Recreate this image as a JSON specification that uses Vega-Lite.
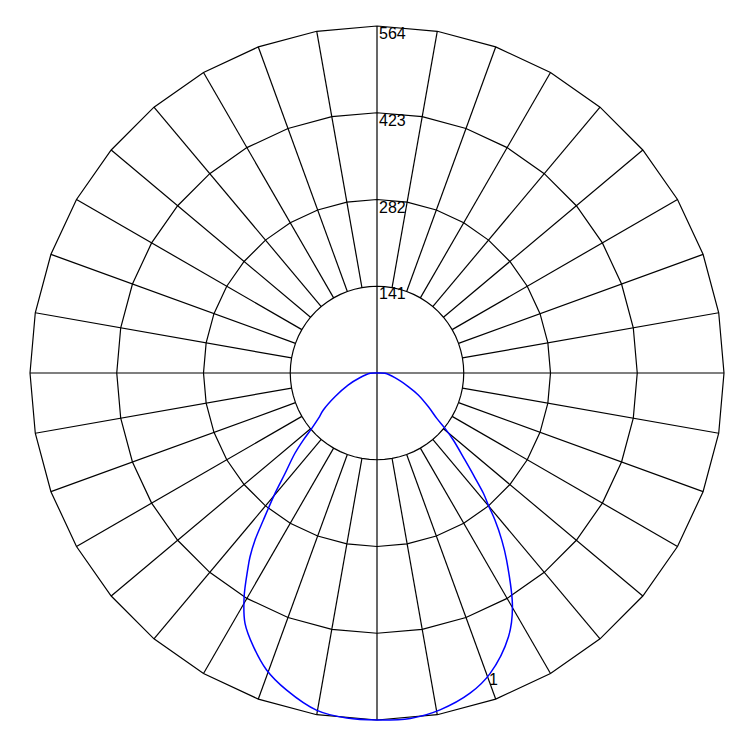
{
  "$schema": "https://vega.github.io/schema/vega-lite/v6.json",
  "width": 740,
  "height": 740,
  "autosize": "none",
  "padding": {"left": 7, "top": 3, "right": 3, "bottom": 7},
  "background": "white",
  "config": {"view": {"stroke": null}},
  "datasets": {
    "rings": [
      {"ring": 141, "a": [0,5,10,15,20,25,30,35,40,45,50,55,60,65,70,75,80,85,90,95,100,105,110,115,120,125,130,135,140,145,150,155,160,165,170,175,180,185,190,195,200,205,210,215,220,225,230,235,240,245,250,255,260,265,270,275,280,285,290,295,300,305,310,315,320,325,330,335,340,345,350,355,360]},
      {"ring": 282, "a": [0,10,20,30,40,50,60,70,80,90,100,110,120,130,140,150,160,170,180,190,200,210,220,230,240,250,260,270,280,290,300,310,320,330,340,350,360]},
      {"ring": 423, "a": [0,10,20,30,40,50,60,70,80,90,100,110,120,130,140,150,160,170,180,190,200,210,220,230,240,250,260,270,280,290,300,310,320,330,340,350,360]},
      {"ring": 564, "a": [0,10,20,30,40,50,60,70,80,90,100,110,120,130,140,150,160,170,180,190,200,210,220,230,240,250,260,270,280,290,300,310,320,330,340,350,360]}
    ],
    "spokes": [
      {"a": 0, "r0": 0}, {"a": 10, "r0": 141}, {"a": 20, "r0": 141}, {"a": 30, "r0": 141},
      {"a": 40, "r0": 141}, {"a": 50, "r0": 141}, {"a": 60, "r0": 141}, {"a": 70, "r0": 141},
      {"a": 80, "r0": 141}, {"a": 90, "r0": 0}, {"a": 100, "r0": 141}, {"a": 110, "r0": 141},
      {"a": 120, "r0": 141}, {"a": 130, "r0": 141}, {"a": 140, "r0": 141}, {"a": 150, "r0": 141},
      {"a": 160, "r0": 141}, {"a": 170, "r0": 141}, {"a": 180, "r0": 0}, {"a": 190, "r0": 141},
      {"a": 200, "r0": 141}, {"a": 210, "r0": 141}, {"a": 220, "r0": 141}, {"a": 230, "r0": 141},
      {"a": 240, "r0": 141}, {"a": 250, "r0": 141}, {"a": 260, "r0": 141}, {"a": 270, "r0": 0},
      {"a": 280, "r0": 141}, {"a": 290, "r0": 141}, {"a": 300, "r0": 141}, {"a": 310, "r0": 141},
      {"a": 320, "r0": 141}, {"a": 330, "r0": 141}, {"a": 340, "r0": 141}, {"a": 350, "r0": 141}
    ],
    "ticks": [{"v": 141}, {"v": 282}, {"v": 423}, {"v": 564}],
    "curve": [
      {"g": -90, "i": 0}, {"g": -87.5, "i": 11}, {"g": -74.5, "i": 29}, {"g": -67.3, "i": 51},
      {"g": -60.6, "i": 78}, {"g": -55.4, "i": 106}, {"g": -52.3, "i": 120}, {"g": -49.7, "i": 139},
      {"g": -47.7, "i": 162}, {"g": -45.6, "i": 187}, {"g": -42.5, "i": 221}, {"g": -40.3, "i": 256},
      {"g": -37.7, "i": 302}, {"g": -36.15, "i": 336}, {"g": -34.65, "i": 363},
      {"g": -33.3, "i": 383}, {"g": -30.7, "i": 423},
      {"g": -27.8, "i": 460}, {"g": -24.3, "i": 488}, {"g": -20.4, "i": 515}, {"g": -15.9, "i": 536},
      {"g": -10.1, "i": 557}, {"g": -5, "i": 563}, {"g": 0, "i": 564}, {"g": 5.5, "i": 564},
      {"g": 10.6, "i": 557}, {"g": 16.2, "i": 542}, {"g": 20.6, "i": 522}, {"g": 26.5, "i": 479},
      {"g": 30.1, "i": 439}, {"g": 34.7, "i": 370}, {"g": 36.75, "i": 339}, {"g": 38.75, "i": 306},
      {"g": 40.1, "i": 281}, {"g": 41.5, "i": 261}, {"g": 43.4, "i": 228}, {"g": 45.3, "i": 201},
      {"g": 48.7, "i": 165}, {"g": 50.9, "i": 142},
      {"g": 52.8, "i": 122}, {"g": 56.7, "i": 100}, {"g": 62, "i": 76}, {"g": 66.4, "i": 56},
      {"g": 75.4, "i": 30}, {"g": 87.5, "i": 13}, {"g": 90, "i": 0}
    ],
    "curveLabel": [{"g": 19.75, "i": 539, "t": "1"}]
  },
  "layer": [
    {
      "data": {"name": "rings"},
      "transform": [
        {"flatten": ["a"]},
        {"calculate": "datum.ring * sin(datum.a * PI / 180)", "as": "x"},
        {"calculate": "datum.ring * cos(datum.a * PI / 180)", "as": "y"}
      ],
      "mark": {"type": "line", "color": "black", "strokeWidth": 1.2},
      "encoding": {
        "x": {"field": "x", "type": "quantitative", "scale": {"domain": [-601.4, 601.4], "nice": false, "zero": false}, "axis": null},
        "y": {"field": "y", "type": "quantitative", "scale": {"domain": [-601.4, 601.4], "nice": false, "zero": false}, "axis": null},
        "detail": {"field": "ring"},
        "order": {"field": "a", "type": "quantitative"}
      }
    },
    {
      "data": {"name": "spokes"},
      "transform": [
        {"calculate": "datum.r0 * sin(datum.a * PI / 180)", "as": "x0"},
        {"calculate": "datum.r0 * cos(datum.a * PI / 180)", "as": "y0"},
        {"calculate": "564 * sin(datum.a * PI / 180)", "as": "x1"},
        {"calculate": "564 * cos(datum.a * PI / 180)", "as": "y1"}
      ],
      "mark": {"type": "rule", "color": "black", "strokeWidth": 1.2},
      "encoding": {
        "x": {"field": "x0", "type": "quantitative"},
        "y": {"field": "y0", "type": "quantitative"},
        "x2": {"field": "x1"},
        "y2": {"field": "y1"}
      }
    },
    {
      "data": {"name": "curve"},
      "transform": [
        {"calculate": "datum.i * sin(datum.g * PI / 180)", "as": "x"},
        {"calculate": "-datum.i * cos(datum.g * PI / 180)", "as": "y"}
      ],
      "mark": {"type": "line", "color": "#0000ff", "strokeWidth": 1.5, "interpolate": "catmull-rom"},
      "encoding": {
        "x": {"field": "x", "type": "quantitative"},
        "y": {"field": "y", "type": "quantitative"},
        "order": {"field": "g", "type": "quantitative"}
      }
    },
    {
      "data": {"name": "ticks"},
      "mark": {"type": "text", "align": "left", "baseline": "alphabetic", "dx": 2, "dy": 13, "font": "Liberation Sans", "fontSize": 16, "color": "black"},
      "encoding": {
        "x": {"datum": 0, "type": "quantitative"},
        "y": {"field": "v", "type": "quantitative"},
        "text": {"field": "v", "type": "nominal"}
      }
    },
    {
      "data": {"name": "curveLabel"},
      "transform": [
        {"calculate": "datum.i * sin(datum.g * PI / 180)", "as": "x"},
        {"calculate": "-datum.i * cos(datum.g * PI / 180)", "as": "y"}
      ],
      "mark": {"type": "text", "align": "left", "baseline": "alphabetic", "font": "Liberation Sans", "fontSize": 16, "color": "black"},
      "encoding": {
        "x": {"field": "x", "type": "quantitative"},
        "y": {"field": "y", "type": "quantitative"},
        "text": {"field": "t", "type": "nominal"}
      }
    }
  ]
}
